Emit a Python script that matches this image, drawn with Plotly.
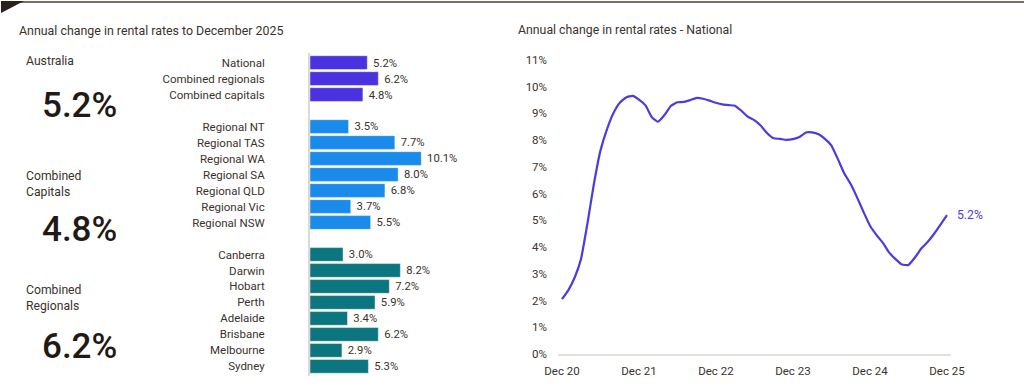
import plotly.graph_objects as go
import pandas as pd

# ---------------- data ----------------
national_labels = ["National", "Combined regionals", "Combined capitals"]
national_values = [5.2, 6.2, 4.8]

regional_labels = ["Regional NT", "Regional TAS", "Regional WA", "Regional SA",
                   "Regional QLD", "Regional Vic", "Regional NSW"]
regional_values = [3.5, 7.7, 10.1, 8.0, 6.8, 3.7, 5.5]

capital_labels = ["Canberra", "Darwin", "Hobart", "Perth", "Adelaide",
                  "Brisbane", "Melbourne", "Sydney"]
capital_values = [3.0, 8.2, 7.2, 5.9, 3.4, 6.2, 2.9, 5.3]

headline_labels = ["Australia", "Combined<br>Capitals", "Combined<br>Regionals"]
headline_values = ["5.2%", "4.8%", "6.2%"]

line_start = "2020-12-01"
national_series = [2.05, 2.4, 2.9, 3.55, 4.9, 6.35, 7.6, 8.38, 9.0, 9.4,
                   9.6, 9.66, 9.52, 9.3, 8.85, 8.69, 8.94, 9.28, 9.42, 9.43,
                   9.5, 9.58, 9.55, 9.48, 9.4, 9.34, 9.31, 9.29, 9.1, 8.88,
                   8.75, 8.55, 8.26, 8.07, 8.05, 8.01, 8.04, 8.12, 8.29, 8.29,
                   8.22, 8.05, 7.8, 7.3, 6.75, 6.35, 5.85, 5.3, 4.8, 4.45,
                   4.15, 3.8, 3.55, 3.35, 3.33, 3.6, 3.95, 4.2, 4.5, 4.85, 5.2]
line_ticks = ["2020-12-01", "2021-12-01", "2022-12-01", "2023-12-01",
              "2024-12-01", "2025-12-01"]
line_ticktext = ["Dec 20", "Dec 21", "Dec 22", "Dec 23", "Dec 24", "Dec 25"]

# ---------------- styling ----------------
W, H = 1024, 386
FONT = "Roboto"
TXT = "#3a322b"
DARK = "#1f1a15"
C_NAT = "#4a32e0"
C_REG = "#1a8bea"
C_CAP = "#0b7680"
C_LINE = "#4b3be0"


def px_x(x):
    return x / W


def px_y(y):
    return 1 - y / H


fig = go.Figure()

groups = [(national_labels, national_values, C_NAT),
          (regional_labels, regional_values, C_REG),
          (capital_labels, capital_values, C_CAP)]
tickvals, ticktext = [], []
slot = 0
for labels, values, color in groups:
    ys = list(range(slot, slot + len(labels)))
    fig.add_trace(go.Bar(
        x=values, y=ys, orientation="h", width=0.86,
        marker=dict(color=color, line=dict(color="rgba(255,255,255,0.45)", width=1)),
        text=[f" {v:.1f}%" for v in values], textposition="outside",
        textfont=dict(family=FONT, size=11.5, color=TXT),
        cliponaxis=False, showlegend=False, hoverinfo="skip",
        xaxis="x", yaxis="y"))
    tickvals += ys
    ticktext += labels
    slot += len(labels) + 1
n_slots = slot - 1

dates = pd.date_range(line_start, periods=len(national_series), freq="MS")
fig.add_trace(go.Scatter(
    x=dates, y=national_series, mode="lines",
    line=dict(color=C_LINE, width=2.2, shape="spline", smoothing=0.4),
    showlegend=False, hoverinfo="skip", xaxis="x2", yaxis="y2"))

fig.update_layout(
    width=W, height=H, autosize=False,
    margin=dict(l=0, r=0, t=0, b=0, pad=0, autoexpand=False),
    paper_bgcolor="white", plot_bgcolor="white",
    font=dict(family=FONT, color=TXT, size=11),
    bargap=0.1,
    xaxis=dict(domain=[px_x(310), px_x(310 + 14 * 11.02)], range=[0, 14],
               visible=False, fixedrange=True, automargin=False),
    yaxis=dict(domain=[px_y(376), px_y(53)], range=[n_slots - 0.5 + 0.1, -0.5 - 0.1],
               tickvals=tickvals, ticktext=ticktext, ticks="",
               showgrid=False, zeroline=False, showline=True,
               linecolor="#dcd8d3", linewidth=2, automargin=False,
               ticklabelstandoff=41,
               tickfont=dict(family=FONT, size=11.5, color=TXT)),
    xaxis2=dict(domain=[px_x(558), px_x(951)], anchor="y2",
                range=["2020-11-12", "2025-12-20"],
                tickvals=line_ticks, ticktext=line_ticktext, ticks="",
                showgrid=False, zeroline=False, showline=True,
                linecolor="#e3e0db", linewidth=2, automargin=False,
                ticklabelstandoff=5,
                tickfont=dict(family=FONT, size=11.5, color=TXT)),
    yaxis2=dict(domain=[px_y(354), px_y(60)], anchor="x2", range=[0, 11],
                dtick=1, ticksuffix="%", ticks="", showgrid=False,
                zeroline=False, showline=False, ticklabelstandoff=10,
                automargin=False,
                tickfont=dict(family=FONT, size=11.5, color=TXT)),
)

annotations = [
    dict(text="Annual change in rental rates to December 2025",
         x=px_x(17), y=px_y(30), xanchor="left", yanchor="middle",
         font=dict(size=12.4, color=TXT)),
    dict(text="Annual change in rental rates - National",
         x=px_x(516), y=px_y(30), xanchor="left", yanchor="middle",
         font=dict(size=12.3, color=TXT)),
    dict(text=f"{national_series[-1]:.1f}%", x=dates[-1], y=national_series[-1],
         xref="x2", yref="y2", xanchor="left", yanchor="middle", xshift=8,
         showarrow=False, font=dict(size=12.2, color=C_LINE)),
]
label_y = [61, 184, 298]
value_y = [106, 229, 346]
for lab, val, ly, vy in zip(headline_labels, headline_values, label_y, value_y):
    annotations.append(dict(text=lab, x=px_x(24), y=px_y(ly), xanchor="left",
                            yanchor="middle", align="left",
                            font=dict(size=12.2, color=TXT)))
    annotations.append(dict(text=val, x=px_x(79), y=px_y(vy), xanchor="center",
                            yanchor="middle",
                            font=dict(size=35, color=DARK, weight=500)))
for a in annotations:
    a.setdefault("xref", "paper")
    a.setdefault("yref", "paper")
    a.setdefault("showarrow", False)
fig.update_layout(annotations=annotations)

fig.update_layout(shapes=[
    dict(type="line", xref="paper", yref="paper", x0=px_x(18), x1=1,
         y0=px_y(2), y1=px_y(2), line=dict(color="#7a6f66", width=2)),
    dict(type="path", xref="paper", yref="paper",
         path=f"M {px_x(1)} {px_y(1)} L {px_x(24)} {px_y(1)} L {px_x(1)} {px_y(13)} Z",
         fillcolor="#2a2118", line=dict(width=0)),
])

fig.write_html(
    "out.html",
    config={"responsive": False, "displayModeBar": False},
    post_script="document.body.style.margin='0';document.body.style.overflow='hidden';",
)
